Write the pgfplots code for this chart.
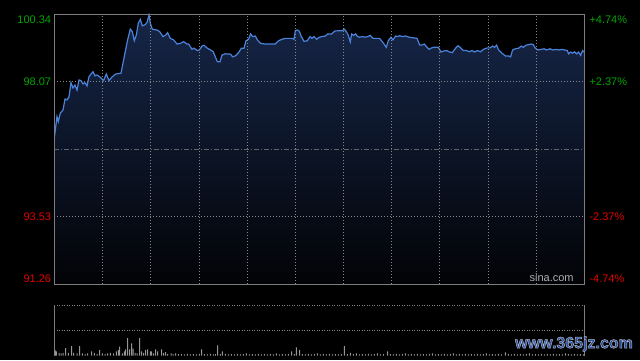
\documentclass[border=0pt]{standalone}
\usepackage{fontspec}
\setmainfont{Liberation Sans}
\newfontfamily\wmfont{Liberation Sans}[BoldFeatures={FakeBold=3}]
\usepackage{pgfplots}
\usepackage{pgfplotstable}
\pgfplotsset{compat=1.18}
\definecolor{gridc}{RGB}{135,135,135}
\definecolor{framec}{RGB}{125,125,125}
\definecolor{upc}{RGB}{0,165,0}
\definecolor{dnc}{RGB}{225,0,0}
\definecolor{linec}{RGB}{75,130,220}
\definecolor{filltop}{RGB}{22,38,72}
\definecolor{fillbot}{RGB}{2,3,6}
\definecolor{volc}{RGB}{150,150,150}
\definecolor{wm}{RGB}{40,78,160}
\definecolor{sinac}{RGB}{175,175,175}
\newcommand{\lab}[3]{\smash{\raisebox{#1}{\textcolor{#2}{#3}}}}

\pgfplotstableread{
x y
0 96.17
2.7 96.89
4 96.72
6 97.01
8.7 97.11
10.7 97.48
12.7 97.45
14.7 97.55
16.7 98.03
18.7 97.85
20.7 97.95
22.7 97.78
24.7 98.12
26.7 98.10
28.7 97.99
30.7 98.03
32.7 97.92
34.7 98.23
36.7 98.32
38.7 98.40
40.7 98.26
42.7 98.29
46 98.21
49.3 98.10
52 98.32
54.7 98.10
58 98.23
61.3 98.32
66.7 98.35
69.3 98.79
71.3 99.13
73.3 99.47
76 99.83
78 99.75
80 99.44
82 99.63
84 100.03
86 100.16
88 99.94
90.7 99.98
92.7 100.05
94.7 100.31
96 100.03
98 99.83
102.7 99.80
105.3 99.75
108.7 99.58
111.3 99.63
113.3 99.71
116 99.52
119.3 99.47
122.7 99.33
126 99.35
129.3 99.41
132.7 99.33
134.3 99.33
137.7 99.15
139.7 99.19
143 99.11
145 99.13
147.7 99.26
149.7 99.29
153 99.19
156.3 99.13
159 99.07
161 98.90
163 98.74
165.7 98.73
167.7 98.96
171 99.00
176.3 98.99
178.3 98.90
181 98.93
184.3 99.04
187 99.19
189.7 99.19
191.7 99.44
194.3 99.49
196.3 99.67
198.3 99.58
201 99.60
203 99.47
206.3 99.35
211 99.33
221 99.33
224.3 99.44
227.7 99.49
231 99.52
237.7 99.52
239.7 99.49
241 99.78
243 99.80
245 99.76
247 99.58
249.7 99.42
253 99.44
255.7 99.58
257.7 99.52
259.7 99.58
262.3 99.49
265 99.56
267.7 99.58
271 99.60
273.3 99.67
277.3 99.67
280.7 99.77
288 99.78
290 99.83
292 99.75
294 99.62
296 99.40
297.3 99.67
299.3 99.62
301.3 99.67
303.3 99.58
305.3 99.56
308 99.58
310.7 99.56
313.3 99.58
316 99.62
318.7 99.52
325.3 99.52
329.3 99.35
332 99.22
334 99.44
336.7 99.56
338.7 99.47
341.3 99.60
343.3 99.58
345.3 99.61
348 99.58
351.3 99.60
354.7 99.56
362.7 99.52
365.3 99.30
368 99.30
370 99.33
372.7 99.22
374.7 99.15
376.7 99.19
379.3 99.22
384 99.22
386.7 99.06
390 99.10
392.7 99.11
394.7 99.07
398 99.04
401.3 99.19
403.7 99.27
405.7 99.22
409 99.11
412.3 99.11
415 99.07
417.7 99.11
420.3 99.06
423 99.11
426.3 99.07
429 99.15
433 99.20
435.7 99.20
438.3 99.26
440.3 99.22
442.3 99.29
444.3 99.13
447.7 99.02
451 98.93
454.3 98.93
456.3 98.90
458.3 99.13
461 99.17
464.3 99.19
467 99.26
469 99.22
471.7 99.29
474.3 99.31
477 99.33
479 99.31
481 99.19
483.7 99.13
487 99.15
489.7 99.17
492.3 99.13
495.7 99.17
498.3 99.13
501.7 99.15
504.3 99.13
507.7 99.15
513 99.11
514.3 99.00
516.3 99.06
518.3 99.02
520.3 99.07
522.3 99.00
524.3 99.06
526.3 98.95
528.3 99.11
529.7 99.06
}\pricedata

\pgfplotstableread{
x v
0.7 5.3
2 4
4.7 2.7
6.7 2
8.7 2.7
11.3 7.3
14 2.7
17.3 9.3
19.3 2.7
22.7 2
25.3 9.3
28 2
30.7 1.3
33.3 2
37.3 4
40 2.7
42.7 1.3
45.3 5.3
48 2
50.7 1.3
53.3 2
56 2.7
59.3 2
62 4
64 5.3
65.3 8.7
68 2
70 4
71.3 6
73.3 17.3
75.3 6
77.3 12
78.7 6.7
80.7 2.7
82.7 2
85.3 17.3
87.3 4
89.3 2.7
91.3 5.3
93.3 6
96 4
97.3 4
99.3 2
101.3 6
103.3 4
107.3 6
109.3 2.7
111.3 3.3
113.3 1.3
116.7 2
118.7 1.3
121.3 2
124 1.3
127 1.5
130 1
133 1.5
136 1
139 1.3
142 1
145 1.5
147.3 6
150 1.3
153 1
156 1.5
159 1
161 1.3
163.3 10
166 1.3
168 4
171 1.5
174 1
177 1.3
180 1
183 1.5
186 1
189 1.3
192 2
195 1
198 1.3
201 1
204 1.5
207 1
210 1.3
213 1
216 1.5
219 1
222 2
225 1
228 1.3
231 1
234 1.5
237.3 4
240 1.3
242 8
245.3 5.3
248 1.3
251 1
254 1.5
257 1
260 1.3
263 2
266 1
269 1.3
272 1
275 1.5
278 1
281 1.3
284 1
287 1.5
290 9.3
293 1.3
296 2.7
299 1.3
302 2
305 1
308 1.3
311 1
314 1.5
317 1
320 1.3
323 2
326 1
329 1.3
333.3 4
336 1.3
339 1
342 1.5
345 1
348 1.3
351 2
354 1
357 1.3
360 1
363 1.5
366 1
369 1.3
372 1
375 1.5
378 2
381 1
384 1.3
387 1
390 1.5
393 1
396 1.3
399 2
402 1
405 1.3
408 1
411 1.5
414 1
417 1.3
420 1
423 1.5
426 1
429 1.3
432 2
435 1
438 1.3
441 1
444 1.5
447 1
451 3
454 1.3
457 1
460 1.5
463 1
466 1.3
469 1
472 1.5
475 2
478 1
481 1.3
484 1
487 1.5
490 1
493 1.3
496 1
499 1.5
502 1
505 1.3
508 1
511 2
514 1.3
517 1
520 1.5
523 1
526 1.3
529 1
}\voldata

\begin{document}
\begin{tikzpicture}[x=1bp,y=1bp]
\fill[black] (0,0) rectangle (640,360);
% main price panel
\begin{axis}[
  at={(54.3bp,76bp)}, anchor=south west, scale only axis,
  width=530bp, height=270bp,
  xmin=0, xmax=530, ymin=91.26, ymax=100.34,
  axis on top,
  axis line style={framec, line width=0.8bp},
  xtick={48.18,96.36,144.55,192.73,240.91,289.09,337.27,385.45,433.64,481.82},
  xticklabels={},
  ytick={91.26,93.53,98.07,100.34},
  yticklabels={\lab{2bp}{dnc}{91.26},\lab{-3.95bp}{dnc}{93.53},\lab{-3.95bp}{upc}{98.07},\lab{-9.95bp}{upc}{100.34}},
  grid=major,
  major grid style={gridc, line width=0.6bp, dash pattern=on 1bp off 2bp},
  major tick length=0pt,
  yticklabel style={anchor=east, inner sep=0pt, xshift=-3bp, font=\fontsize{11bp}{13bp}\selectfont},
  extra y ticks={95.80},
  extra y tick labels={},
  extra y tick style={grid=major, major grid style={gridc!75!black, line width=0.6bp, dash pattern=on 5bp off 2bp on 1bp off 2bp}},
]
\addplot[draw=none, top color=filltop, bottom color=fillbot] table[x=x,y=y] {\pricedata} -- (axis cs:529.7,91.26) -- (axis cs:0,91.26) -- cycle;
\addplot[linec, line width=1.2bp, mark=none] table[x=x,y=y] {\pricedata};
\node[anchor=base east, inner sep=0pt, text=sinac, font=\fontsize{11bp}{13bp}\selectfont] at (axis cs:519.5,91.33) {sina.com};
\end{axis}
% right percentage labels
\begin{axis}[
  at={(54.3bp,76bp)}, anchor=south west, scale only axis,
  width=530bp, height=270bp,
  xmin=0, xmax=530, ymin=91.26, ymax=100.34,
  axis x line=none, axis y line*=right,
  axis line style={draw=none},
  major tick length=0pt,
  ytick={91.26,93.53,98.07,100.34},
  yticklabels={\lab{2bp}{dnc}{-4.74\%},\lab{-3.95bp}{dnc}{-2.37\%},\lab{-3.95bp}{upc}{+2.37\%},\lab{-9.95bp}{upc}{+4.74\%}},
  yticklabel style={anchor=west, inner sep=0pt, xshift=5bp, font=\fontsize{11bp}{13bp}\selectfont},
]
\end{axis}
% volume panel
\begin{axis}[
  at={(54.3bp,4.5bp)}, anchor=south west, scale only axis,
  width=530bp, height=50.5bp,
  xmin=0, xmax=530, ymin=0, ymax=50,
  axis x line=none, axis y line=box,
  axis line style={framec, line width=0.8bp},
  xtick=\empty,
  ytick={25,50}, yticklabels={},
  major tick length=0pt,
  ymajorgrids,
  major grid style={gridc, line width=0.8bp, dash pattern=on 1bp off 1.5bp},
]
\addplot[ybar, bar width=1bp, fill=volc, draw=none] table[x=x,y=v] {\voldata};
\end{axis}
% watermark (blue letters with a light outline)
\node[inner sep=0pt] at (574,16) {\color{wm}\special{pdf:literal direct 0.72 0.74 0.78 RG}\wmfont\bfseries\fontsize{16bp}{18bp}\selectfont www.365jz.com};
\pgfresetboundingbox
\useasboundingbox (0,0) rectangle (640,360);
\end{tikzpicture}
\end{document}
